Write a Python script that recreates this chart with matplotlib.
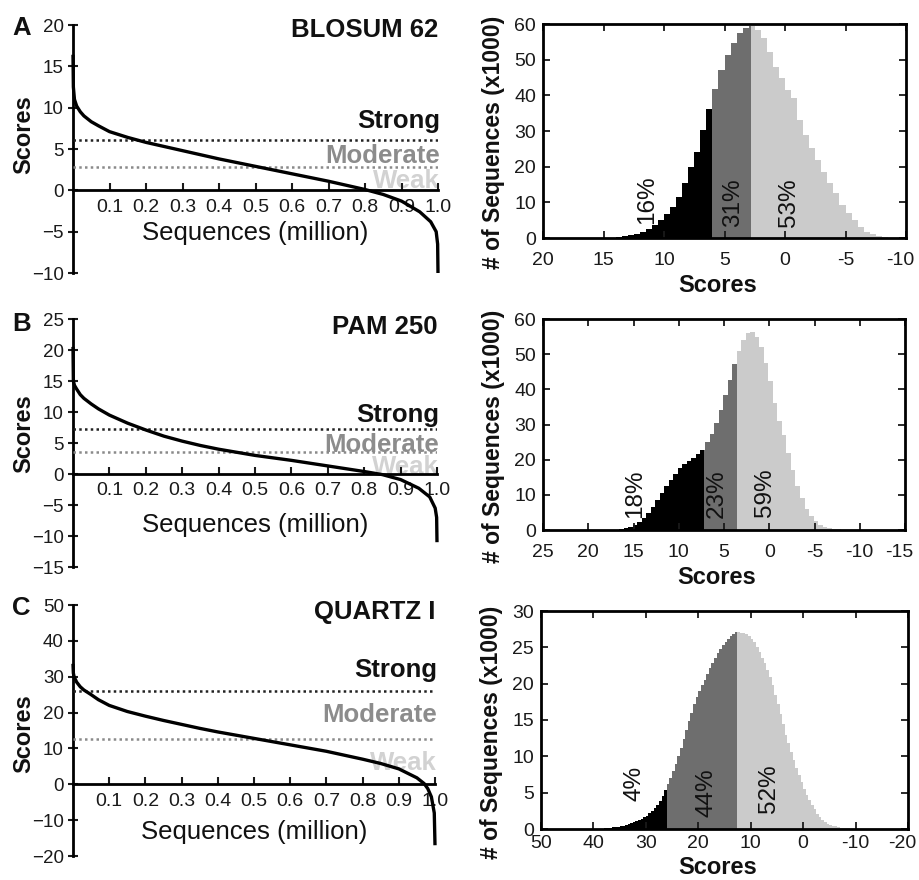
import matplotlib
matplotlib.use("Agg")
import matplotlib.pyplot as plt
from matplotlib.transforms import ScaledTranslation
import numpy as np

plt.rcParams['font.family'] = ['Liberation Sans', 'DejaVu Sans']

W, H = 919, 880

# ---------------- data ----------------
panel_letters = ["A", "B", "C"]
matrix_names = ["BLOSUM 62", "PAM 250", "QUARTZ I"]

# thresholds (strong, moderate)
strong_thr = [6.05, 7.2, 26.0]
moderate_thr = [2.8, 3.6, 12.7]

# sorted-score curves (left panels): sequences (million) vs score
seq_A = [0.0, 0.001, 0.004, 0.01, 0.02, 0.03, 0.05, 0.07, 0.1, 0.15, 0.2, 0.25, 0.3, 0.35, 0.4, 0.45,
         0.5, 0.55, 0.6, 0.65, 0.7, 0.75, 0.8, 0.85, 0.9, 0.95, 0.98, 0.995, 0.999, 1.0]
score_A = [16.4, 12.5, 11.0, 10.2, 9.5, 9.0, 8.3, 7.8, 7.1, 6.4, 5.8, 5.3, 4.8, 4.3, 3.8, 3.35,
           2.9, 2.45, 2.0, 1.55, 1.1, 0.6, 0.1, -0.5, -1.3, -2.6, -3.8, -5.0, -6.5, -10.0]

seq_B = [0.0, 0.001, 0.004, 0.01, 0.02, 0.03, 0.05, 0.07, 0.1, 0.15, 0.2, 0.25, 0.3, 0.35, 0.4, 0.45,
         0.5, 0.55, 0.6, 0.65, 0.7, 0.75, 0.8, 0.85, 0.9, 0.95, 0.98, 0.995, 0.999, 1.0]
score_B = [20.5, 15.0, 14.3, 13.7, 12.8, 12.2, 11.3, 10.5, 9.5, 8.2, 7.1, 6.1, 5.3, 4.6, 4.0, 3.5,
           3.0, 2.6, 2.2, 1.75, 1.3, 0.85, 0.4, -0.1, -0.9, -2.3, -3.7, -5.5, -7.0, -11.0]

seq_C = [0.0, 0.001, 0.003, 0.01, 0.02, 0.03, 0.05, 0.07, 0.1, 0.15, 0.2, 0.25, 0.3, 0.35, 0.4, 0.45,
         0.5, 0.55, 0.6, 0.65, 0.7, 0.75, 0.8, 0.85, 0.9, 0.95, 0.97, 0.98, 0.99, 0.998, 1.0]
score_C = [33.6, 31.0, 30.0, 28.5, 27.2, 26.3, 25.0, 23.6, 22.0, 20.3, 19.0, 17.8, 16.7, 15.6, 14.6, 13.7,
           12.8, 11.9, 11.0, 10.1, 9.2, 8.1, 7.0, 5.8, 4.3, 1.8, 0.2, -1.2, -3.5, -8.0, -17.0]

# histograms (right panels): bins of 0.5 score, listed from the highest score downward
bin_width = [0.5, 0.5, 0.5]
bin_top = [14.0, 17.1, 39.0]
counts_A = [0.25, 0.45, 0.75, 1.1, 1.7, 2.4, 3.6, 5.0, 6.6, 8.8, 11.6, 15.3, 20.0, 24.2, 30.3, 36.1,
            41.8, 47.1, 51.3, 54.6, 57.4, 58.8, 59.3,
            58.3, 56.0, 52.2, 48.0, 44.8, 41.5, 39.2, 33.1, 28.9, 25.1, 21.9, 18.6, 15.3, 12.5,
            9.3, 6.9, 5.0, 3.2, 1.8, 1.0, 0.6, 0.3, 0.1]
counts_B = [0.1, 0.3, 0.6, 0.9, 1.5, 2.3, 3.4, 4.7, 6.4, 8.4, 10.5, 12.4, 14.3, 16.0, 17.6, 18.8, 19.6, 20.5, 21.6, 22.8,
            25.1, 27.3, 30.3, 34.0, 38.4, 42.7, 47.3,
            51.0, 54.0, 56.0, 56.4, 55.0, 52.0, 47.5, 42.5, 36.0, 31.0, 27.0, 22.0, 17.0, 12.5, 9.0, 6.0,
            4.0, 2.5, 1.4, 0.8, 0.5, 0.3, 0.15, 0.1]
counts_C = [0.03, 0.05, 0.08, 0.12, 0.17, 0.22, 0.27, 0.32, 0.38, 0.45, 0.55, 0.7, 0.8, 0.9, 1.05, 1.2,
            1.4, 1.6, 1.85, 2.2, 2.5, 2.9, 3.3, 3.9, 4.6, 5.4,
            6.2, 7.0, 8.0, 9.0, 10.1, 11.2, 12.4, 13.6, 14.8, 16.0, 17.2, 18.2, 19.0, 19.8, 20.5, 21.3,
            22.1, 22.9, 23.6, 24.2, 24.8, 25.3, 25.7, 26.1, 26.5, 26.8, 27.1,
            27.1, 27.0, 27.0, 26.9, 26.6, 26.2, 25.7, 25.1, 24.4, 23.6, 22.8, 21.9, 20.9, 19.8, 18.5,
            17.2, 15.8, 14.5, 13.0, 11.8, 10.6, 9.5, 8.4, 7.4, 6.4, 5.5, 4.7, 4.0, 3.3, 2.7, 2.1, 1.6,
            1.25, 0.95, 0.75, 0.6, 0.45, 0.35, 0.27, 0.2, 0.15, 0.1, 0.07, 0.05, 0.03]

percent_labels = [["16%", "31%", "53%"], ["18%", "23%", "59%"], ["4%", "44%", "52%"]]

left_ylim = [(-10, 20), (-15, 25), (-20, 50)]
left_yticks = [[-10, -5, 0, 5, 10, 15, 20], [-15, -10, -5, 0, 5, 10, 15, 20, 25],
               [-20, -10, 0, 10, 20, 30, 40, 50]]
seq_ticks = [0.1, 0.2, 0.3, 0.4, 0.5, 0.6, 0.7, 0.8, 0.9, 1.0]

right_xlim = [(20, -10), (25, -15), (50, -20)]
right_xticks = [[20, 15, 10, 5, 0, -5, -10], [25, 20, 15, 10, 5, 0, -5, -10, -15],
                [50, 40, 30, 20, 10, 0, -10, -20]]
right_ylim = [(0, 60), (0, 60), (0, 30)]
right_yticks = [[0, 10, 20, 30, 40, 50, 60], [0, 10, 20, 30, 40, 50, 60], [0, 5, 10, 15, 20, 25, 30]]

curves = [(seq_A, score_A), (seq_B, score_B), (seq_C, score_C)]
hists = [counts_A, counts_B, counts_C]

# ---------------- layout (pixels) ----------------
left_boxes = [(73, 25, 438, 273), (73, 319, 437, 567), (73, 605, 435, 856)]
right_boxes = [(543, 24, 906, 238), (543, 319, 905, 530), (541, 611, 908, 829)]
letter_pos = [(12, 35), (12, 331), (12, 615)]
# text y positions in data units per panel
title_y = [19.4, 23.7, 48.0]
strong_y = [7.5, 8.4, 30.0]
moderate_y = [3.35, 3.5, 17.5]
weak_y = [0.3, 0.0, 4.0]
xlabel_y = [-5.2, -8.2, -13.2]
ylabel_pos = [0.556, 0.536, 0.486]
right_xlabel_y = [-0.168, -0.17, -0.125]
right_xpad = [10, 10, 4.5]
pct_pos = [[(11.4, 4.0), (4.3, 3.0), (-0.3, 3.0)],
           [(14.8, 3.3), (5.8, 3.3), (0.5, 3.8)],
           [(32.1, 3.8), (18.4, 1.7), (6.6, 2.2)]]

black_c = "#000000"
dark_c = "#6e6e6e"
light_c = "#cbcbcb"
mod_text_c = "#8c8c8c"
weak_text_c = "#d2d2d2"


def box_to_rect(b):
    x0, y0, x1, y1 = b
    return [x0 / W, 1 - y1 / H, (x1 - x0) / W, (y1 - y0) / H]


def fmt_hyphen(v):
    return ("%g" % v).replace("\u2212", "-")


fig = plt.figure(figsize=(W / 100, H / 100), dpi=100)

for i in range(3):
    # ---------- left panel ----------
    ax = fig.add_axes(box_to_rect(left_boxes[i]))
    ax.set_facecolor("none")
    seq, sc = curves[i]
    ax.plot(seq, sc, color="black", lw=2.4, zorder=5, clip_on=False, solid_capstyle="butt",
            solid_joinstyle="round")
    ax.plot([0, 1.0], [strong_thr[i], strong_thr[i]], color="#222222", lw=1.8,
            ls=(0, (1, 1.3)), zorder=3)
    ax.plot([0, 1.0], [moderate_thr[i], moderate_thr[i]], color="#8a8a8a", lw=1.8,
            ls=(0, (1, 1.3)), zorder=3)
    ax.set_xlim(0, 1.0)
    ax.set_ylim(*left_ylim[i])
    ax.spines["top"].set_visible(False)
    ax.spines["right"].set_visible(False)
    ax.spines["bottom"].set_position(("data", 0))
    ax.spines["left"].set_linewidth(2.0)
    ax.spines["bottom"].set_linewidth(2.0)
    ax.set_xticks(seq_ticks, ["%.1f" % t for t in seq_ticks])
    ax.set_yticks(left_yticks[i], [("%d" % t).replace("-", "\u2212") for t in left_yticks[i]])
    ax.tick_params(axis="x", direction="in", length=5, width=1.5, labelsize=14, pad=6,
                   colors="#1a1a1a")
    ax.tick_params(axis="y", direction="inout", length=7, width=1.5, labelsize=13.5, pad=3,
                   colors="#1a1a1a")
    ax.text(1.0, title_y[i], matrix_names[i], ha="right", va="center", fontsize=18.5,
            fontweight="bold", color="#111111")
    ax.text(1.005, strong_y[i], "Strong", ha="right", va="baseline", fontsize=18.5,
            fontweight="bold", color="#111111", zorder=1)
    ax.text(1.005, moderate_y[i], "Moderate", ha="right", va="baseline", fontsize=18.5,
            fontweight="bold", color=mod_text_c, zorder=1)
    ax.text(1.005, weak_y[i], "Weak", ha="right", va="baseline", fontsize=18.5,
            fontweight="bold", color=weak_text_c, zorder=1)
    ax.text(0.5, xlabel_y[i], "Sequences (million)", ha="center", va="center", fontsize=18.5,
            color="#111111")
    ax.set_ylabel("Scores", fontsize=17, fontweight="bold", color="#111111")
    ax.yaxis.set_label_coords(-0.104, ylabel_pos[i])
    lx, ly = letter_pos[i]
    fig.text(lx / W, 1 - ly / H, panel_letters[i], fontsize=18.5, fontweight="bold",
             ha="left", va="baseline", color="#111111")

    # ---------- right panel ----------
    axr = fig.add_axes(box_to_rect(right_boxes[i]))
    counts = hists[i]
    w = bin_width[i]
    top = bin_top[i]
    regions = [(strong_thr[i], 1e9, black_c), (moderate_thr[i], strong_thr[i], dark_c),
               (-1e9, moderate_thr[i], light_c)]
    for lo_r, hi_r, col in regions:
        los, his, vals = [], [], []
        for k, c in enumerate(counts):
            b_hi = top - k * w
            b_lo = top - (k + 1) * w
            lo = max(b_lo, lo_r)
            hi = min(b_hi, hi_r)
            if hi > lo:
                los.append(lo)
                his.append(hi)
                vals.append(c)
        order = np.argsort(los)
        los = [los[j] for j in order]
        his = [his[j] for j in order]
        vals = [vals[j] for j in order]
        edges = los + [his[-1]]
        axr.stairs(vals, edges, fill=True, color=col, baseline=0, lw=0)
    axr.set_xlim(*right_xlim[i])
    axr.set_ylim(*right_ylim[i])
    axr.set_xticks(right_xticks[i], [fmt_hyphen(t) for t in right_xticks[i]])
    axr.set_yticks(right_yticks[i], ["%d" % t for t in right_yticks[i]])
    axr.tick_params(axis="both", direction="in", length=5, width=1.3, labelsize=14,
                    colors="#1a1a1a", top=True, right=True)
    axr.tick_params(axis="x", pad=right_xpad[i])
    axr.tick_params(axis="y", pad=5)
    xlabels = axr.get_xticklabels()
    xlabels[-1].set_transform(xlabels[-1].get_transform() +
                              ScaledTranslation(-6 / 100, 0, fig.dpi_scale_trans))
    for s in axr.spines.values():
        s.set_linewidth(2.0)
    axr.set_xlabel("Scores", fontsize=17, fontweight="bold", color="#111111")
    axr.xaxis.set_label_coords(0.48, right_xlabel_y[i])
    axr.set_ylabel("# of Sequences (x1000)", fontsize=16.5, fontweight="bold", color="#111111")
    axr.yaxis.set_label_coords(-0.104, 0.445)
    for (px, py), lab in zip(pct_pos[i], percent_labels[i]):
        axr.text(px, py, lab, rotation=90, ha="center", va="bottom", fontsize=17.5,
                 color="#111111", zorder=6)

fig.savefig("out.png", dpi=100)
